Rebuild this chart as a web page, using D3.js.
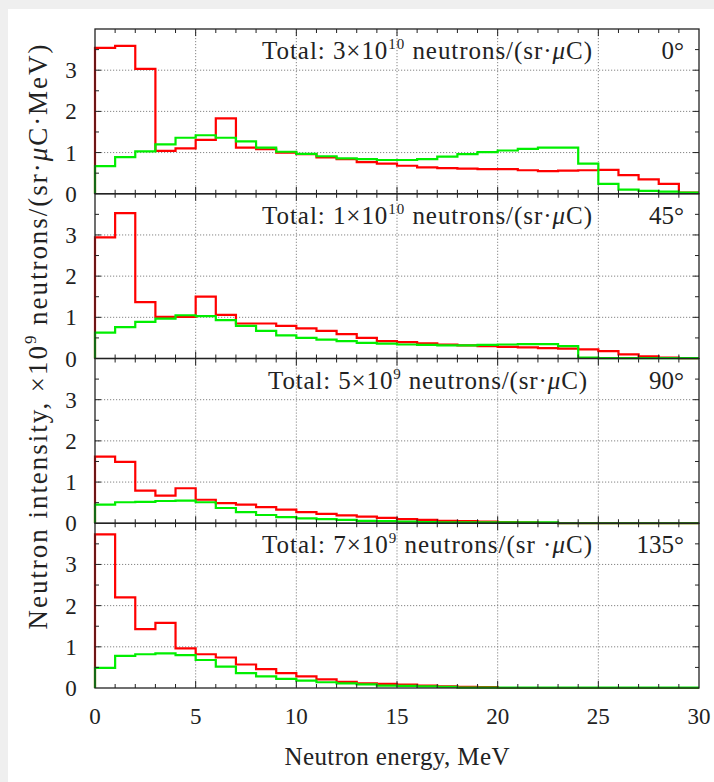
<!DOCTYPE html>
<html>
<head>
<meta charset="utf-8">
<script src="https://cdn.jsdelivr.net/npm/d3@7"></script>
<style>
  html, body { margin: 0; padding: 0; background: #efefef; }
  svg { display: block; }
  text { font-family: "Liberation Serif", "DejaVu Serif", serif; fill: #222; }
</style>
</head>
<body>
<svg class="chart"></svg>
<script>
// bin edges in MeV (1 MeV bins)
const binEdges = [0, 1, 2, 3, 4, 5, 6, 7, 8, 9, 10, 11, 12, 13, 14, 15, 16, 17, 18, 19, 20, 21, 22, 23, 24, 25, 26, 27, 28, 29, 30];

const red0 = [3.54, 3.59, 3.03, 1.04, 1.10, 1.31, 1.83, 1.12, 1.08, 1.00, 0.96, 0.88, 0.84, 0.77, 0.73,
  0.68, 0.64, 0.62, 0.61, 0.60, 0.60, 0.57, 0.55, 0.56, 0.57, 0.58, 0.45, 0.35, 0.24, 0.03];
const green0 = [0.67, 0.89, 1.03, 1.20, 1.36, 1.42, 1.36, 1.27, 1.12, 1.02, 0.97, 0.91, 0.86, 0.84, 0.82,
  0.82, 0.84, 0.90, 0.96, 1.01, 1.05, 1.09, 1.12, 1.12, 0.73, 0.24, 0.10, 0.07, 0.05, 0.03];

const red45 = [2.94, 3.53, 1.37, 1.01, 1.01, 1.50, 1.06, 0.85, 0.85, 0.79, 0.73, 0.67, 0.59, 0.50, 0.42,
  0.40, 0.37, 0.34, 0.32, 0.30, 0.28, 0.27, 0.25, 0.24, 0.22, 0.18, 0.10, 0.05, 0.02, 0.01];
const green45 = [0.63, 0.76, 0.89, 0.97, 1.05, 1.03, 0.93, 0.79, 0.67, 0.56, 0.50, 0.46, 0.42, 0.38, 0.36,
  0.34, 0.33, 0.32, 0.32, 0.33, 0.34, 0.35, 0.35, 0.30, 0.02, 0.01, 0.01, 0.01, 0.01, 0.01];

const red90 = [1.62, 1.49, 0.79, 0.67, 0.85, 0.57, 0.49, 0.45, 0.39, 0.33, 0.27, 0.23, 0.19, 0.16, 0.13,
  0.10, 0.08, 0.06, 0.05, 0.04, 0.03, 0.02, 0.01, 0.00, 0.00, 0.00, 0.00, 0.00, 0.00, 0.00];
const green90 = [0.45, 0.51, 0.52, 0.54, 0.55, 0.51, 0.37, 0.27, 0.20, 0.15, 0.12, 0.10, 0.08, 0.06, 0.05,
  0.04, 0.03, 0.02, 0.02, 0.02, 0.02, 0.02, 0.02, 0.00, 0.00, 0.00, 0.00, 0.00, 0.00, 0.00];

const red135 = [3.73, 2.20, 1.43, 1.58, 0.96, 0.82, 0.74, 0.57, 0.46, 0.36, 0.28, 0.21, 0.15, 0.11, 0.10,
  0.08, 0.06, 0.04, 0.03, 0.02, 0.00, 0.00, 0.00, 0.00, 0.00, 0.00, 0.00, 0.00, 0.00, 0.00];
const green135 = [0.49, 0.78, 0.82, 0.84, 0.80, 0.68, 0.52, 0.36, 0.28, 0.22, 0.18, 0.14, 0.11, 0.09, 0.06,
  0.05, 0.04, 0.03, 0.01, 0.01, 0.01, 0.01, 0.01, 0.01, 0.01, 0.01, 0.01, 0.01, 0.01, 0.01];

const angles = ['0°', '45°', '90°', '135°'];
const totalMantissa = ['3', '1', '5', '7'];
const totalExponent = ['10', '10', '9', '9'];
const srSeparator = ['sr·', 'sr·', 'sr·', 'sr ·'];
const redSeries = [red0, red45, red90, red135];
const greenSeries = [green0, green45, green90, green135];

const xTicks = [0, 5, 10, 15, 20, 25, 30];
const yTicks = [0, 1, 2, 3];
const xMinorTicks = binEdges;
const yMinorTicks = [0.5, 1, 1.5, 2, 2.5, 3, 3.5];

const W = 714, H = 782;
const plot = { left: 95, right: 699, top: 29, bottom: 688 };
const panelH = (plot.bottom - plot.top) / 4;

const svg = d3.select('.chart').attr('width', W).attr('height', H);
svg.append('rect').attr('x', 8).attr('y', 9).attr('width', W - 8).attr('height', H - 9).attr('fill', '#fff');

const x = d3.scaleLinear().domain([0, 30]).range([plot.left, plot.right]);

const stepLine = (yScale) => d3.line()
  .x((d) => x(d[0]))
  .y((d) => yScale(d[1]))
  .curve(d3.curveStepAfter);

const toPoints = (vals) => {
  const pts = [[binEdges[0], 0]];
  vals.forEach((v, i) => pts.push([binEdges[i], v]));
  pts.push([binEdges[binEdges.length - 1], vals[vals.length - 1]]);
  return pts;
};

angles.forEach((angle, i) => {
  const top = plot.top + i * panelH;
  const y = d3.scaleLinear().domain([0, 4]).range([top + panelH, top]);
  const g = svg.append('g');

  // dotted grid
  g.selectAll('.vgrid').data(xTicks.slice(1, -1)).enter().append('line')
    .attr('x1', (d) => x(d)).attr('x2', (d) => x(d))
    .attr('y1', top).attr('y2', top + panelH)
    .attr('stroke', '#777').attr('stroke-width', 0.9).attr('stroke-dasharray', '1.2,1.8');
  g.selectAll('.hgrid').data(yTicks.slice(1)).enter().append('line')
    .attr('x1', plot.left).attr('x2', plot.right)
    .attr('y1', (d) => y(d)).attr('y2', (d) => y(d))
    .attr('stroke', '#777').attr('stroke-width', 0.9).attr('stroke-dasharray', '1.2,1.8');

  // annotation
  const t = g.append('text').attr('x', i === 2 ? 268 : 262).attr('y', top + 30).attr('font-size', 25)
    .attr('textLength', i === 2 ? 319 : 330);
  t.append('tspan').text(`Total: ${totalMantissa[i]}×10`);
  t.append('tspan').attr('font-size', 15).attr('dy', -10).text(totalExponent[i]);
  t.append('tspan').attr('dy', 10).text(` neutrons/(${srSeparator[i]}`);
  t.append('tspan').attr('font-style', 'italic').text('μ');
  t.append('tspan').text('C)');
  g.append('text').attr('x', 684).attr('y', top + 30).attr('font-size', 25)
    .attr('text-anchor', 'end').text(angle);

  // histograms
  g.append('path').datum(toPoints(redSeries[i])).attr('d', stepLine(y))
    .attr('fill', 'none').attr('stroke', '#ff0000').attr('stroke-width', 2.2);
  g.append('path').datum(toPoints(greenSeries[i])).attr('d', stepLine(y))
    .attr('fill', 'none').attr('stroke', '#00ee00').attr('stroke-width', 2.2);

  // ticks on all four sides (inward)
  const tickLen = (d) => (d % 5 === 0 ? 7 : 4);
  g.selectAll('.tb').data(xMinorTicks.slice(1, -1)).enter().append('line')
    .attr('x1', (d) => x(d)).attr('x2', (d) => x(d))
    .attr('y1', top + panelH).attr('y2', (d) => top + panelH - tickLen(d))
    .attr('stroke', '#222');
  g.selectAll('.tt').data(xMinorTicks.slice(1, -1)).enter().append('line')
    .attr('x1', (d) => x(d)).attr('x2', (d) => x(d))
    .attr('y1', top).attr('y2', (d) => top + tickLen(d))
    .attr('stroke', '#222');
  g.selectAll('.tl').data(yMinorTicks).enter().append('line')
    .attr('x1', plot.left).attr('x2', (d) => plot.left + (d % 1 === 0 ? 6 : 4))
    .attr('y1', (d) => y(d)).attr('y2', (d) => y(d))
    .attr('stroke', '#222');
  g.selectAll('.tr').data(yMinorTicks).enter().append('line')
    .attr('x1', plot.right).attr('x2', (d) => plot.right - (d % 1 === 0 ? 6 : 4))
    .attr('y1', (d) => y(d)).attr('y2', (d) => y(d))
    .attr('stroke', '#222');

  // y tick labels
  g.selectAll('.yl').data(yTicks).enter().append('text')
    .attr('x', 71).attr('y', (d) => y(d) + 8)
    .attr('text-anchor', 'middle').attr('font-size', 23)
    .text((d) => d);

  g.append('rect').attr('x', plot.left).attr('y', top)
    .attr('width', plot.right - plot.left).attr('height', panelH)
    .attr('fill', 'none').attr('stroke', '#222').attr('stroke-width', 1.3);
});

// x tick labels
svg.selectAll('.xl').data(xTicks).enter().append('text')
  .attr('x', (d) => x(d)).attr('y', plot.bottom + 36)
  .attr('text-anchor', 'middle').attr('font-size', 23)
  .text((d) => d);

svg.append('text').attr('x', 397).attr('y', 765)
  .attr('text-anchor', 'middle').attr('font-size', 25).attr('textLength', 225)
  .text('Neutron energy, MeV');

const yt = svg.append('text').attr('transform', 'translate(47,337) rotate(-90)')
  .attr('text-anchor', 'middle').attr('font-size', 27).attr('textLength', 585);
yt.append('tspan').text('Neutron intensity, ×10');
yt.append('tspan').attr('font-size', 17).attr('dy', -11).text('9');
yt.append('tspan').attr('dy', 11).text(' neutrons/(sr·');
yt.append('tspan').attr('font-style', 'italic').text('μ');
yt.append('tspan').text('C·MeV)');
</script>
</body>
</html>
